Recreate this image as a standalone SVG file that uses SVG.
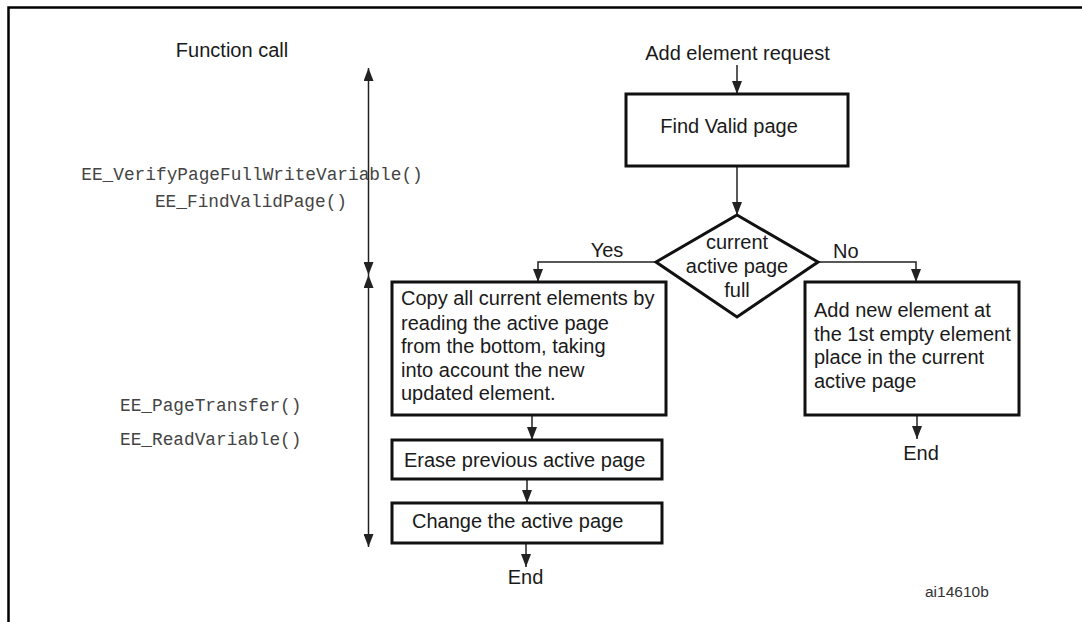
<svg xmlns="http://www.w3.org/2000/svg" width="1082" height="622" viewBox="0 0 1082 622">
<style>
.box{fill:#fff;stroke:#111;stroke-width:3}
.t{font-family:"Liberation Sans",Arial,sans-serif;font-size:20px;fill:#1a1a1a}
.m{font-family:"Liberation Mono","Courier New",monospace;font-size:17.8px;fill:#444}
.c{fill:none;stroke:#222;stroke-width:1.5}
.mid{text-anchor:middle}
</style>
<defs>
<marker id="ah" viewBox="0 0 13 10" refX="13" refY="5" markerWidth="13" markerHeight="10" markerUnits="userSpaceOnUse" orient="auto-start-reverse">
<path d="M0,0 L13,5 L0,10 z" fill="#222"/>
</marker>
</defs>
<rect width="1082" height="622" fill="#fff"/>
<path d="M8.5,622 V7.5 H1082" fill="none" stroke="#000" stroke-width="2.5"/>

<g id="function-call">
<text class="t mid" x="232" y="57">Function call</text>
<text class="m mid" x="252" y="180">EE_VerifyPageFullWriteVariable()</text>
<text class="m mid" x="251" y="207">EE_FindValidPage()</text>
<text class="m" x="120" y="411">EE_PageTransfer()</text>
<text class="m" x="120" y="445">EE_ReadVariable()</text>
</g>

<g id="connectors">
<line class="c" x1="368.5" y1="68" x2="368.5" y2="275" marker-start="url(#ah)" marker-end="url(#ah)"/>
<line class="c" x1="368.5" y1="275" x2="368.5" y2="547" marker-start="url(#ah)" marker-end="url(#ah)"/>
<line class="c" x1="737" y1="65" x2="737" y2="94" marker-end="url(#ah)"/>
<line class="c" x1="737" y1="166" x2="737" y2="215" marker-end="url(#ah)"/>
<path class="c" d="M656,262 H538 V282" marker-end="url(#ah)"/>
<path class="c" d="M818,262 H916 V282" marker-end="url(#ah)"/>
<line class="c" x1="917" y1="415" x2="917" y2="439" marker-end="url(#ah)"/>
<line class="c" x1="532" y1="415" x2="532" y2="440" marker-end="url(#ah)"/>
<line class="c" x1="527" y1="479" x2="527" y2="503" marker-end="url(#ah)"/>
<line class="c" x1="526" y1="543" x2="526" y2="567" marker-end="url(#ah)"/>
<text class="t mid" x="607" y="257">Yes</text>
<text class="t" x="833" y="258">No</text>
</g>

<g id="start">
<text class="t mid" x="737.5" y="60">Add element request</text>
</g>

<g id="find-valid-page">
<rect class="box" x="626" y="94" width="222" height="72"/>
<text class="t mid" x="729" y="133">Find Valid page</text>
</g>

<g id="decision">
<polygon class="box" points="737,215 818,262 737,317 656,262"/>
<text class="t mid" x="737" y="249">current</text>
<text class="t mid" x="737" y="273">active page</text>
<text class="t mid" x="737" y="297">full</text>
</g>

<g id="add-new-element">
<rect class="box" x="805" y="282" width="214" height="133"/>
<text class="t" x="814" y="317">Add new element at</text>
<text class="t" x="814" y="341">the 1st empty element</text>
<text class="t" x="814" y="364">place in the current</text>
<text class="t" x="814" y="388">active page</text>
</g>

<g id="end-right">
<text class="t mid" x="921" y="460">End</text>
</g>

<g id="copy-elements">
<rect class="box" x="392" y="282" width="274" height="133"/>
<text class="t" x="401" y="305">Copy all current elements by</text>
<text class="t" x="401" y="330">reading the active page</text>
<text class="t" x="401" y="353">from the bottom, taking</text>
<text class="t" x="401" y="377">into account the new</text>
<text class="t" x="401" y="400">updated element.</text>
</g>

<g id="erase-page">
<rect class="box" x="392" y="440" width="270" height="39"/>
<text class="t" x="404" y="467">Erase previous active page</text>
</g>

<g id="change-page">
<rect class="box" x="392" y="503" width="270" height="40"/>
<text class="t" x="412" y="528">Change the active page</text>
</g>

<g id="end-left">
<text class="t mid" x="525.5" y="584">End</text>
</g>

<g id="ref">
<text class="t" x="925" y="597" style="font-size:15.5px;fill:#333">ai14610b</text>
</g>
</svg>
